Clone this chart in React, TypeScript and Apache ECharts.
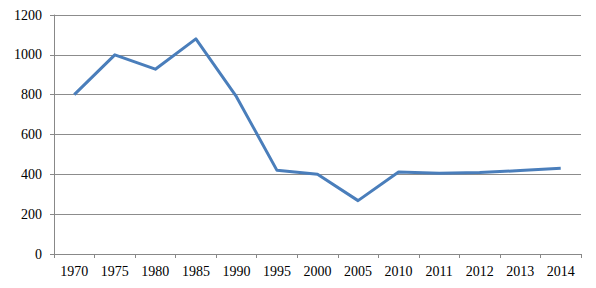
import React, { useEffect, useRef } from "react";
import * as echarts from "echarts";

const categories = ["1970", "1975", "1980", "1985", "1990", "1995", "2000", "2005", "2010", "2011", "2012", "2013", "2014"];
const values = [800, 1000, 928, 1080, 790, 420, 400, 268, 412, 405, 409, 419, 430];
const yTicks = { min: 0, max: 1200, interval: 200 };

export default function App() {
  const ref = useRef<HTMLDivElement>(null);
  useEffect(() => {
    document.body.style.margin = "0";
    const chart = echarts.init(ref.current!, null, { renderer: "svg" });
    const font = "Liberation Serif";
    chart.setOption({
      animation: false,
      backgroundColor: "#ffffff",
      grid: { left: 54, right: 15, top: 15, bottom: 34, containLabel: false },
      xAxis: {
        type: "category",
        data: categories,
        boundaryGap: true,
        axisLine: { show: true, lineStyle: { color: "#888888", width: 1 } },
        axisTick: { show: true, alignWithLabel: false, length: 4, lineStyle: { color: "#888888" } },
        axisLabel: { color: "#000000", fontFamily: font, fontSize: 14, margin: 10, interval: 0 },
        splitLine: { show: false },
      },
      yAxis: {
        type: "value",
        min: yTicks.min,
        max: yTicks.max,
        interval: yTicks.interval,
        axisLine: { show: true, lineStyle: { color: "#888888", width: 1 } },
        axisTick: { show: true, length: 4, lineStyle: { color: "#888888" } },
        axisLabel: { color: "#000000", fontFamily: font, fontSize: 14, margin: 12, formatter: (v: number) => String(v) },
        splitLine: { show: true, lineStyle: { color: "#8c8c8c", width: 1 } },
      },
      series: [
        {
          type: "line",
          data: values,
          symbol: "none",
          lineStyle: { color: "#4a7ebb", width: 3, join: "round" },
          itemStyle: { color: "#4a7ebb" },
        },
      ],
    });
    return () => chart.dispose();
  }, []);
  return <div ref={ref} style={{ position: "absolute", left: 0, top: 0, width: 596, height: 288 }} />;
}
